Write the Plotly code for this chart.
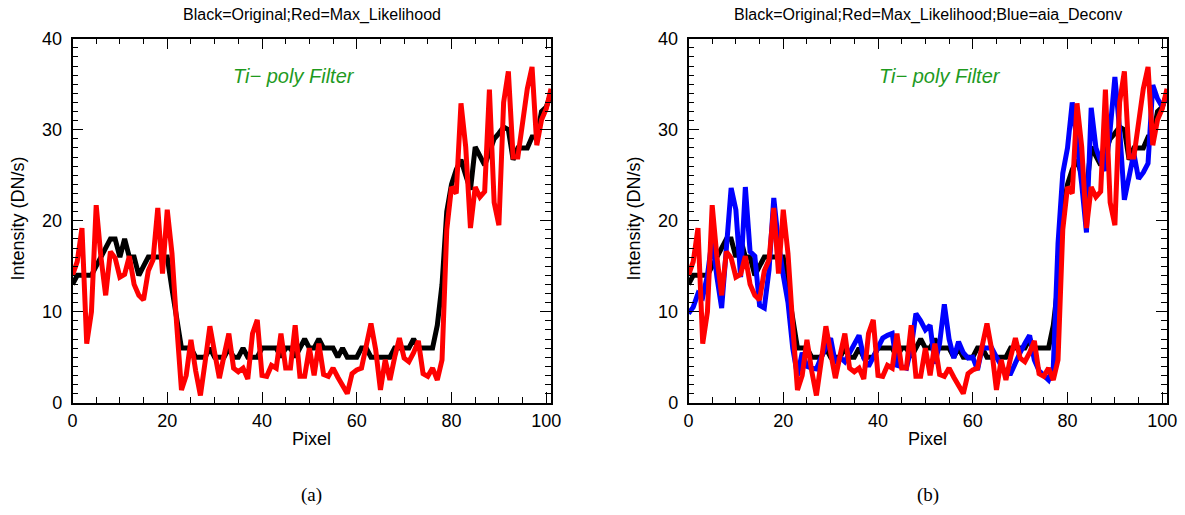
import plotly.graph_objects as go

# Pixel index along the cut
pixel = list(range(102))

# Original intensity (DN/s)
original = [13, 14, 14, 14, 14, 15, 16, 17, 18, 18,
            16, 18, 16, 16, 14, 15, 16, 16, 16, 16,
            16, 12.5, 9, 6, 6, 6, 5, 5, 5, 6,
            5, 5, 5, 6, 5, 5, 6, 5, 5, 5,
            6, 6, 6, 6, 5, 6, 6, 5, 6, 7,
            6, 6, 7, 6, 6, 6, 5, 6, 5, 5,
            5, 6, 6, 5, 5, 5, 5, 5, 6, 6,
            6, 6, 7, 6, 6, 6, 6, 8.5, 13, 21,
            24, 25.6, 26.7, 25, 23.4, 28.1, 27, 26.1, 27.5, 29,
            29.6, 30.3, 30, 26.7, 28, 28, 28, 29.2, 29.2, 32,
            32.5, 34]

# Max-likelihood restoration
max_likelihood = [14, 15.5, 19.2, 6.5, 10, 21.7, 16, 11.8, 16.6, 15.9,
                  13.8, 14.1, 16.1, 13.0, 11.8, 11.3, 14.5, 15.7, 21.4, 14.2,
                  21.2, 16.4, 8.5, 1.4, 3.0, 6.9, 3.5, 0.8, 4.5, 8.4,
                  5.5, 2.7, 5.2, 7.6, 3.8, 3.4, 3.8, 2.6, 7.6, 9.1,
                  3.0, 2.9, 4.1, 3.8, 7.6, 3.8, 3.8, 8.5, 2.9, 2.9,
                  6.0, 3.0, 6.5, 3.1, 2.9, 3.8, 2.8, 2.0, 1.0, 3.2,
                  3.6, 3.8, 6.0, 8.7, 5.8, 1.4, 4.7, 2.5, 5.0, 7.1,
                  4.9, 4.5, 5.5, 6.8, 3.2, 2.9, 3.8, 2.5, 4.7, 19.0,
                  23.7, 23.0, 32.9, 28.1, 19.2, 23.7, 22.6, 23.2, 34.4, 22.0,
                  19.5, 33.0, 36.4, 27.0, 27.0, 30.7, 34.5, 36.9, 28.3, 31.1,
                  32.3, 34.5]

# aia_deconv restoration
aia_deconv = [9.8, 10.5, 12.0, 11.6, 14.0, 18.0, 13.8, 10.4, 17.0, 23.6,
              21.2, 13.8, 23.7, 16.6, 16.1, 10.7, 10.4, 14.6, 22.5, 17.5,
              14.0, 11.0, 6.0, 3.0, 5.5, 4.0, 3.8, 3.7, 5.0, 6.0,
              7.1, 4.3, 5.0, 4.5, 5.5, 6.5, 7.4, 4.9, 4.0, 5.0,
              6.0, 7.1, 7.4, 7.6, 4.1, 4.0, 3.8, 6.0, 9.8, 9.0,
              8.0, 8.5, 4.3, 6.5, 10.8, 7.0, 4.9, 6.7, 5.5, 4.9,
              5.0, 3.6, 6.1, 6.0, 6.0, 5.0, 4.0, 3.2, 3.2, 4.5,
              5.5, 6.5, 7.4, 4.7, 3.5, 3.0, 2.5, 3.9, 17.5, 25.2,
              28.0, 33.0, 29.0, 24.0, 18.7, 32.4, 28.0, 26.5, 25.5, 30.0,
              35.8, 30.0, 22.3, 25.0, 27.4, 24.6, 25.3, 26.3, 34.9, 33.4,
              32.5, 34.0]

x_ticks = [0, 20, 40, 60, 80, 100]
y_ticks = [0, 10, 20, 30, 40]
titles = ["Black=Original;Red=Max_Likelihood",
          "Black=Original;Red=Max_Likelihood;Blue=aia_Deconv"]
captions = ["(a)", "(b)"]
filter_label = "Ti\u2212 poly Filter"
filter_label_x = [33.4, 39.8]

W, H = 1185, 515
SANS = "Liberation Sans, Arial, sans-serif"
SERIF = "Liberation Serif, Times New Roman, serif"

# plot boxes in pixels: (left, right), shared top/bottom
boxes = [(72.5, 551.0), (688.5, 1167.0)]
top_px, bot_px = 38.7, 402.7

fig = go.Figure()

def px_x(v):
    return v / W

def px_y(v):
    return 1 - v / H

series_sets = [
    [(original, "black"), (max_likelihood, "red")],
    [(original, "black"), (aia_deconv, "blue"), (max_likelihood, "red")],
]

annotations = []
for k, (l, r) in enumerate(boxes):
    xa = "x" if k == 0 else "x2"
    ya = "y" if k == 0 else "y2"
    for vals, col in series_sets[k]:
        fig.add_trace(go.Scatter(x=pixel, y=vals, mode="lines",
                                 line=dict(color=col, width=5),
                                 xaxis=xa, yaxis=ya, showlegend=False,
                                 hoverinfo="skip"))
    axis_common = dict(showline=True, linecolor="black", linewidth=1.5,
                       mirror="ticks", ticks="inside", tickcolor="black",
                       tickwidth=1.3, ticklen=11, showgrid=False, zeroline=False,
                       automargin=False,
                       tickfont=dict(family=SANS, size=18, color="black"))
    xkey = "xaxis" if k == 0 else "xaxis2"
    ykey = "yaxis" if k == 0 else "yaxis2"
    fig.update_layout(**{
        xkey: dict(axis_common, domain=[px_x(l), px_x(r)], range=[0, 101],
                   tickvals=x_ticks, anchor=ya, ticklabelstandoff=1,
                   minor=dict(dtick=5, tick0=0, ticks="inside", ticklen=6,
                              tickwidth=1.2, tickcolor="black")),
        ykey: dict(axis_common, domain=[px_y(bot_px), px_y(top_px)], range=[0, 40],
                   tickvals=y_ticks, anchor=xa, ticklabelstandoff=5,
                   minor=dict(dtick=1, tick0=0, ticks="inside", ticklen=6,
                              tickwidth=1.2, tickcolor="black")),
    })
    cx = (l + r) / 2
    annotations += [
        dict(text=titles[k], x=px_x(cx), y=px_y(15), xref="paper", yref="paper",
             showarrow=False, font=dict(family=SANS, size=16, color="black"),
             xanchor="center", yanchor="middle"),
        dict(text="Pixel", x=px_x(cx), y=px_y(439), xref="paper", yref="paper",
             showarrow=False, font=dict(family=SANS, size=18, color="black"),
             xanchor="center", yanchor="middle"),
        dict(text="Intensity (DN/s)", x=px_x(l - 55), y=px_y(219), xref="paper",
             yref="paper", textangle=-90, showarrow=False,
             font=dict(family=SANS, size=18, color="black"),
             xanchor="center", yanchor="middle"),
        dict(text="<i>" + filter_label + "</i>", x=filter_label_x[k], y=35.9,
             xref=xa, yref=ya, showarrow=False,
             font=dict(family=SANS, size=20, color="#1e9a1e"),
             xanchor="left", yanchor="middle"),
        dict(text=captions[k], x=px_x(cx), y=px_y(495), xref="paper", yref="paper",
             showarrow=False, font=dict(family=SERIF, size=19, color="black"),
             xanchor="center", yanchor="middle"),
    ]

fig.update_layout(width=W, height=H,
                  margin=dict(l=0, r=0, t=0, b=0, pad=0, autoexpand=False),
                  paper_bgcolor="white", plot_bgcolor="white",
                  annotations=annotations)

fig.write_html("out.html")
